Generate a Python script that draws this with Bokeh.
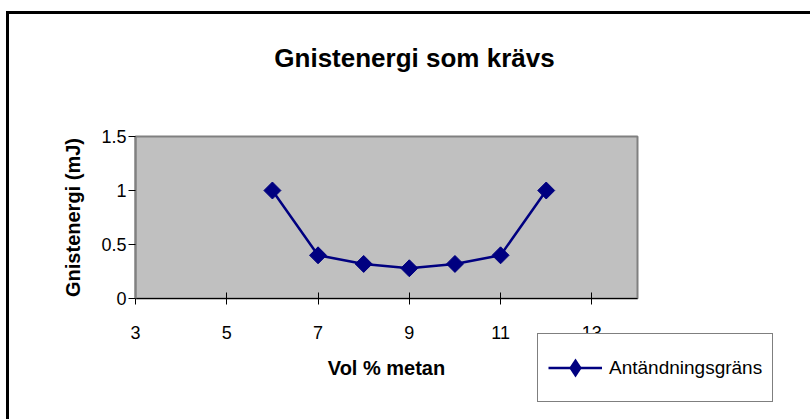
import math
from bokeh.plotting import figure
from bokeh.models import (Range1d, FixedTicker, Legend, LegendItem, LinearAxis, Label)
from bokeh.embed import file_html
from bokeh.resources import INLINE

# data
vol_metan = [6, 7, 8, 9, 10, 11, 12]
gnistenergi = [1.0, 0.4, 0.32, 0.28, 0.32, 0.4, 1.0]
x_ticks = [3, 5, 7, 9, 11, 13]
y_ticks = [0, 0.5, 1, 1.5]
x_limits = [3, 14]
y_limits = [0, 1.5]
title_text = "Gnistenergi som krävs"
x_label = "Vol % metan"
y_label = "Gnistenergi (mJ)"
series_name = "Antändningsgräns"

FONT = "Liberation Sans"
NAVY = "#000080"

# layout (pixels) — the plotting area inside the 810x419 canvas
W, H = 810, 419
PL, PR, PT, PB = 135, 637, 136, 298
xs = (x_limits[1] - x_limits[0]) / (PR - PL)
ys = (y_limits[1] - y_limits[0]) / (PB - PT)
xr = Range1d(x_limits[0] - PL * xs, x_limits[1] + (W - PR) * xs)
yr = Range1d(y_limits[0] - (H - PB) * ys, y_limits[1] + PT * ys)

p = figure(width=W, height=H, output_backend="svg", toolbar_location=None,
           x_range=xr, y_range=yr, x_axis_location=None, y_axis_location=None,
           min_border=0)
p.background_fill_alpha = 0
p.border_fill_alpha = 0
p.outline_line_color = None
for g in p.xgrid:
    g.visible = False
for g in p.ygrid:
    g.visible = False
# outer chart border (left/top visible, right/bottom beyond the window)
p.styles = {
    "background": "linear-gradient(#000, #000) 6px 11px / 3px 100% no-repeat, "
                  "linear-gradient(#000, #000) 6px 11px / 100% 3px no-repeat, #fff"
}

# plot area
p.quad(left=x_limits[0], right=x_limits[1], bottom=y_limits[0], top=y_limits[1],
       fill_color="#C0C0C0", line_color="#808080", line_width=2)

# axes
xaxis = LinearAxis(fixed_location=y_limits[0], bounds=(x_limits[0], x_limits[1]),
                   ticker=FixedTicker(ticks=x_ticks), axis_label=x_label)
yaxis = LinearAxis(fixed_location=x_limits[0], bounds=(y_limits[0], y_limits[1]),
                   ticker=FixedTicker(ticks=y_ticks), axis_label=y_label)
xaxis.axis_line_color = "black"
xaxis.major_tick_in = 6
xaxis.major_tick_out = 6
yaxis.axis_line_color = "#808080"
yaxis.axis_line_width = 2
yaxis.major_tick_in = 0
yaxis.major_tick_out = 7
for ax in (xaxis, yaxis):
    ax.minor_tick_line_color = None
    ax.major_tick_line_color = "black"
    ax.major_label_text_font = FONT
    ax.major_label_text_font_size = "18px"
    ax.major_label_text_color = "black"
    ax.axis_label_text_font = FONT
    ax.axis_label_text_font_size = "20px"
    ax.axis_label_text_font_style = "bold"
    ax.axis_label_text_color = "black"
xaxis.major_label_standoff = 21
yaxis.major_label_standoff = 2
xaxis.axis_label_standoff = 15
yaxis.axis_label_standoff = 14
p.add_layout(xaxis, "below")
p.add_layout(yaxis, "left")

# series
ln = p.line(vol_metan, gnistenergi, line_color=NAVY, line_width=2.5)
# diamond shape used for the legend key (lies fully under the plotted markers)
dm = p.scatter(vol_metan, gnistenergi, marker="diamond", size=16,
               fill_color=NAVY, line_color=None)
mk = p.scatter(vol_metan, gnistenergi, marker="square", angle=math.pi / 4,
               size=12, fill_color=NAVY, line_color=NAVY)

legend = Legend(items=[LegendItem(label=series_name, renderers=[ln, dm])],
                location=(537, 17), orientation="vertical",
                border_line_color="black", border_line_width=1,
                background_fill_color="white", background_fill_alpha=1,
                padding=10, margin=0, glyph_width=54, glyph_height=47,
                label_standoff=7, label_width=100,
                label_text_font=FONT, label_text_font_size="19px",
                label_text_color="black")
p.add_layout(legend, "center")

# title
title = Label(x=414, y=57, x_units="canvas", y_units="canvas", text=title_text,
              text_align="center", text_baseline="middle",
              text_font=FONT, text_font_size="26px", text_font_style="bold",
              text_color="black")
p.add_layout(title)

open("out.html", "w").write(file_html(p, INLINE))
